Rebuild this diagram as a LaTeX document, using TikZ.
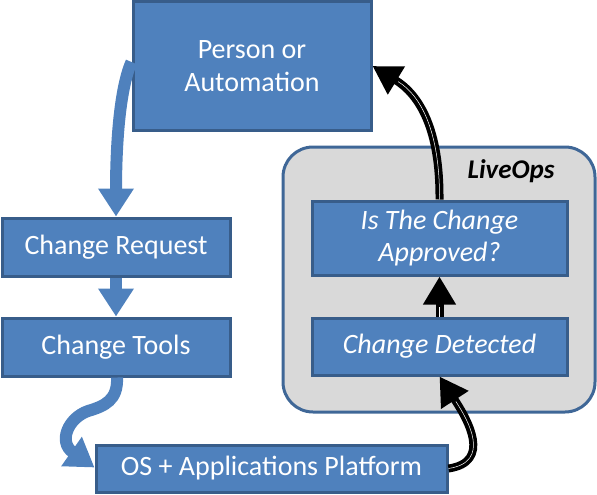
\documentclass[tikz,border=0pt]{standalone}
\usepackage{fontspec}
\setmainfont{Carlito}
\usetikzlibrary{arrows.meta}
\definecolor{boxblue}{HTML}{4F81BD}
\definecolor{boxedge}{HTML}{385D8A}
\definecolor{panelgray}{HTML}{D9D9D9}
\definecolor{paneledge}{HTML}{3F6797}
\tikzset{
  bluebox/.style={draw=boxedge, fill=boxblue, line width=3pt, text=white, inner sep=0pt,
    font=\fontsize{28}{33}\selectfont, align=center},
  panel/.style={draw=paneledge, fill=panelgray, line width=3pt, rounded corners=30pt, inner sep=0pt},
  bluearrow/.style={draw=boxblue, line width=12pt, -{Triangle[width=34pt,length=28pt]}},
  blackarrow/.style={draw=black, line width=8pt, -{Triangle[width=31pt,length=28pt]}},
  inner/.style={draw=white, line width=0.5pt}
}
\begin{document}
\begin{tikzpicture}[x=1pt,y=-1pt]
\useasboundingbox (0,0) rectangle (597,495);
% panel
\node[panel, minimum width=312pt, minimum height=265pt] (liveops) at (439,279.5) {};
\node[font=\fontsize{27}{30}\selectfont\bfseries\itshape, text=black, inner sep=0pt] (lolabel) at (511,171) {LiveOps};
% boxes
\node[bluebox, minimum width=238pt, minimum height=128pt] (person) at (252,66) {Person or\\Automation};
\node[bluebox, minimum width=228pt, minimum height=58pt] (req) at (116,247) {Change Request};
\node[bluebox, minimum width=228pt, minimum height=58pt] (tools) at (116,347) {Change Tools};
\node[bluebox, minimum width=351pt, minimum height=47pt] (os) at (271.5,468.5) {OS + Applications Platform};
\node[bluebox, minimum width=255pt, minimum height=74pt, font=\fontsize{28}{32}\selectfont\itshape] (approved) at (439.5,238) {Is The Change\\Approved?};
\node[bluebox, minimum width=255pt, minimum height=57pt, font=\fontsize{28}{33}\selectfont\itshape] (detected) at (439.5,346.5) {Change Detected};
% blue arrows
\draw[bluearrow] ([yshift=4pt]person.west) .. controls (119,90) and (116,150) .. (req.north);
\draw[bluearrow] (req.south) -- (tools.north);
\draw[bluearrow] ([xshift=1pt]tools.south) .. controls (118,400) and (105,406) .. (88,411)
   .. controls (68,418) and (58,442) .. ([yshift=1pt]os.west);
% black arrows
\draw[blackarrow] (detected.north) -- (approved.south);
\draw[blackarrow] (os.east) .. controls (492,462) and (468,420) .. (detected.south);
\draw[blackarrow] (approved.north) .. controls (440,130) and (420,95) .. (person.east);
\draw[inner, shorten >=30pt] (detected.north) -- (approved.south);
\draw[inner, shorten >=30pt] (os.east) .. controls (492,462) and (468,420) .. (detected.south);
\draw[inner, shorten >=30pt] (approved.north) .. controls (440,130) and (420,95) .. (person.east);
\end{tikzpicture}
\end{document}
